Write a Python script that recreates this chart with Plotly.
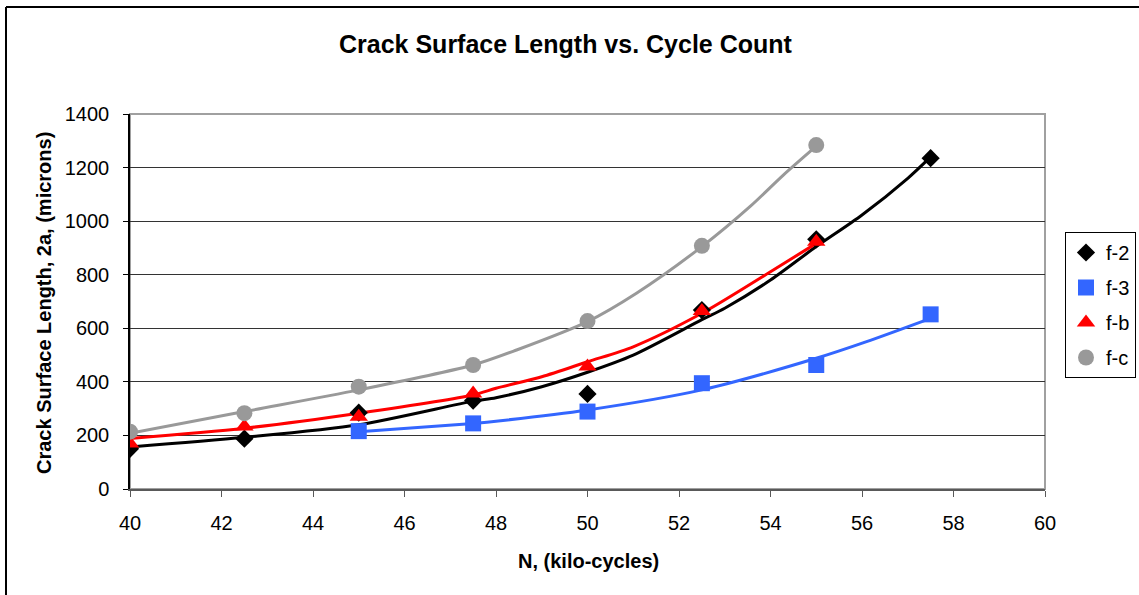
import plotly.graph_objects as go

# Cycle counts (kilo-cycles) and measured crack surface lengths (microns)
n_f2 = [40, 42.5, 45, 47.5, 50, 52.5, 55, 57.5]
len_f2 = [150, 188, 285, 330, 355, 668, 932, 1235]

n_f3 = [45, 47.5, 50, 52.5, 55, 57.5]
len_f3 = [216, 245, 289, 395, 463, 652]

n_fb = [40, 42.5, 45, 47.5, 50, 52.5, 55]
len_fb = [170, 233, 270, 357, 457, 665, 923]

n_fc = [40, 42.5, 45, 47.5, 50, 52.5, 55]
len_fc = [214, 283, 382, 463, 627, 908, 1284]

# Growth-curve predictions drawn as smooth lines for each specimen
curve_n_f2 = [40, 42.5, 45, 47.5, 48, 49, 50, 51, 52.5, 53, 54, 55, 56, 57, 57.5]
curve_len_f2 = [157, 193, 240, 328, 341, 382, 436, 500, 632, 675, 780, 905, 1023, 1160, 1240]

curve_n_f3 = [45, 47.5, 48.1, 50, 52.5, 55, 56.1, 57.5]
curve_len_f3 = [214, 245, 255, 295, 370, 488, 550, 637]

curve_n_fb = [40, 42.5, 45, 47.5, 48, 49, 50, 51, 52.5, 54, 55]
curve_len_fb = [189, 227, 283, 351, 376, 419, 475, 531, 656, 811, 917]

curve_n_fc = [40, 42.5, 45, 47.5, 48.45, 50, 51.07, 52.5, 53.55, 54.28, 55]
curve_len_fc = [208, 289, 370, 463, 519, 625, 731, 905, 1054, 1172, 1280]

series = [
    ("f-2", n_f2, len_f2, curve_n_f2, curve_len_f2, "black", "diamond", 14),
    ("f-3", n_f3, len_f3, curve_n_f3, curve_len_f3, "#3366FF", "square", 16),
    ("f-b", n_fb, len_fb, curve_n_fb, curve_len_fb, "#FF0000", "triangle-up", 16),
    ("f-c", n_fc, len_fc, curve_n_fc, curve_len_fc, "#999999", "circle", 16),
]

FONT = "Liberation Sans, Arial, sans-serif"

fig = go.Figure()

# smooth growth curves
for name, xs, ys, cx, cy, color, sym, size in series:
    fig.add_trace(go.Scatter(
        x=cx, y=cy, mode="lines", line_shape="spline",
        line=dict(color=color, width=3, smoothing=0.8),
        showlegend=False, hoverinfo="skip",
    ))

# measured points
for name, xs, ys, cx, cy, color, sym, size in series:
    fig.add_trace(go.Scatter(
        x=xs, y=ys, mode="markers", name=name, legendgroup=name,
        marker=dict(symbol=sym, color=color, size=size, line=dict(width=0)),
    ))

L, R, T, B = 130, 94, 114, 106
W, H = 1139, 595
pw, ph = W - L - R, H - T - B

def px_x(p):
    return (p - L) / pw

def px_y(p):
    return (H - B - p) / ph

fig.update_layout(
    width=W, height=H,
    margin=dict(l=L, r=R, t=T, b=B, pad=0, autoexpand=False),
    paper_bgcolor="white", plot_bgcolor="white",
    font=dict(family=FONT, size=20, color="black"),
    showlegend=True,
    legend=dict(
        x=px_x(1136), xanchor="right", y=px_y(232), yanchor="top",
        bordercolor="black", borderwidth=1, bgcolor="white",
        font=dict(family=FONT, size=20, color="black"),
        tracegroupgap=6, traceorder="grouped", itemwidth=30,
    ),
    xaxis=dict(
        range=[40, 60], dtick=2, tick0=40,
        showgrid=False, zeroline=False,
        showline=True, linecolor="#595959", linewidth=2,
        ticks="outside", ticklen=6, tickcolor="#595959", tickwidth=1,
        ticklabelstandoff=9,
        tickfont=dict(family=FONT, size=20, color="black"),
    ),
    yaxis=dict(
        range=[0, 1400], dtick=200,
        showgrid=True, gridcolor="#333333", gridwidth=1,
        zeroline=False,
        showline=True, linecolor="black", linewidth=1.5,
        ticks="outside", ticklen=5, tickcolor="black", tickwidth=1,
        ticklabelstandoff=10,
        tickfont=dict(family=FONT, size=20, color="black"),
    ),
    shapes=[
        # plot-area frame
        dict(type="rect", xref="paper", yref="paper", x0=0, x1=1, y0=0, y1=1,
             line=dict(color="#A0A0A0", width=2), layer="below"),
        # outer chart border (top and left edges)
        dict(type="line", xref="paper", yref="paper",
             x0=px_x(6), x1=px_x(1200), y0=px_y(7), y1=px_y(7),
             line=dict(color="black", width=2)),
        dict(type="line", xref="paper", yref="paper",
             x0=px_x(6), x1=px_x(6), y0=px_y(7), y1=px_y(700),
             line=dict(color="black", width=2)),
    ],
    annotations=[
        dict(text="<b>Crack Surface Length vs. Cycle Count</b>",
             xref="paper", yref="paper", x=px_x(566), y=px_y(44),
             xanchor="center", yanchor="middle", showarrow=False,
             font=dict(family=FONT, size=25, color="black")),
        dict(text="<b>N, (kilo-cycles)</b>",
             xref="paper", yref="paper", x=px_x(588), y=px_y(561),
             xanchor="center", yanchor="middle", showarrow=False,
             font=dict(family=FONT, size=20, color="black")),
        dict(text="<b>Crack Surface Length, 2a, (microns)</b>",
             xref="paper", yref="paper", x=px_x(44), y=px_y(303),
             xanchor="center", yanchor="middle", showarrow=False, textangle=-90,
             font=dict(family=FONT, size=20, color="black")),
    ],
)

fig.write_html("out.html")
